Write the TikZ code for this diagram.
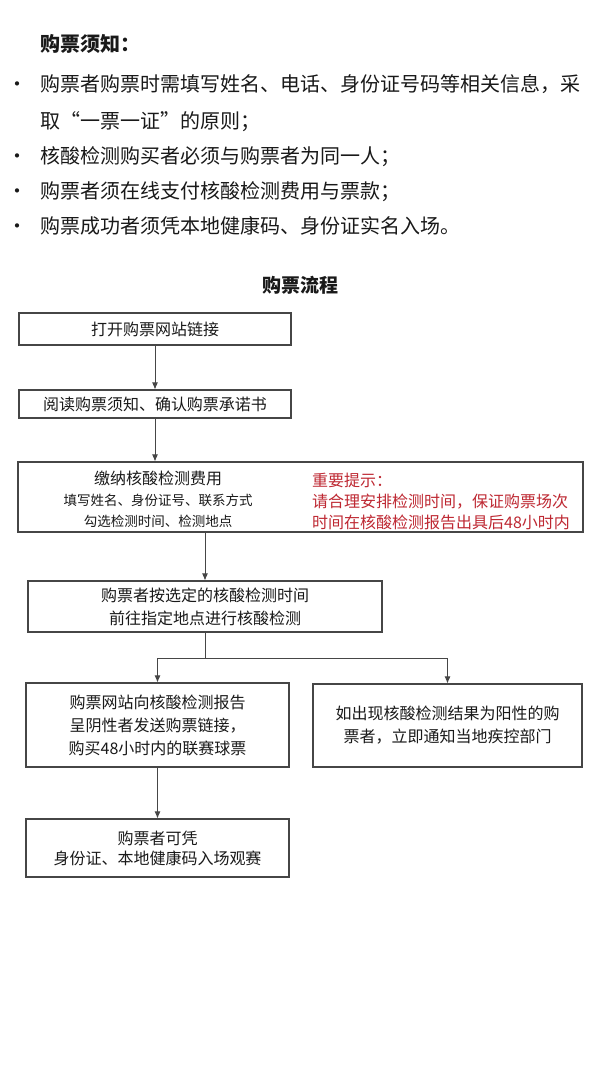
\documentclass[tikz,border=0pt]{standalone}
\usepackage{fontspec}
\setmainfont{Noto Sans CJK SC}
\usetikzlibrary{arrows.meta}
\definecolor{linegray}{RGB}{70,70,70}
\definecolor{textgray}{RGB}{25,25,25}
\definecolor{tipred}{RGB}{190,40,50}
\tikzset{
	flowbox/.style={draw=linegray, line width=1.1pt, inner sep=0pt, align=center, text=textgray},
	flowarrow/.style={draw=linegray, line width=0.9pt, -{Latex[length=7pt,width=6pt]}},
	plain/.style={inner sep=0pt, text=textgray},
}
\newcommand{\bigtext}{\fontsize{20}{36}\selectfont}
\newcommand{\boxtext}{\fontsize{16}{23}\selectfont}
\begin{document}
\begin{tikzpicture}[x=1pt, y=-1pt]
	\useasboundingbox [fill=white] ( 0, 0 ) rectangle ( 600, 1066 );
	% notice
	\node [plain, anchor=base west, font=\bigtext\bfseries] (notehead) at ( 40, 51 ) {购票须知：};
	\node [plain, anchor=base, font=\bigtext] (dot1) at ( 18, 91 ) {•};
	\node [plain, anchor=base, font=\bigtext] (dot2) at ( 18, 163 ) {•};
	\node [plain, anchor=base, font=\bigtext] (dot3) at ( 18, 198 ) {•};
	\node [plain, anchor=base, font=\bigtext] (dot4) at ( 18, 233 ) {•};
	\node [plain, anchor=base west, font=\bigtext] (note1a) at ( 40, 91 ) {购票者购票时需填写姓名、电话、身份证号码等相关信息，采};
	\node [plain, anchor=base west, font=\bigtext] (note1b) at ( 40, 128 ) {取“一票一证”的原则；};
	\node [plain, anchor=base west, font=\bigtext] (note2) at ( 40, 163 ) {核酸检测购买者必须与购票者为同一人；};
	\node [plain, anchor=base west, font=\bigtext] (note3) at ( 40, 198 ) {购票者须在线支付核酸检测费用与票款；};
	\node [plain, anchor=base west, font=\bigtext] (note4) at ( 40, 233 ) {购票成功者须凭本地健康码、身份证实名入场。};
	% flow
	\node [plain, font=\fontsize{19}{19}\selectfont\bfseries] (flowhead) at ( 300, 285 ) {购票流程};
	\node [flowbox, font=\boxtext, minimum width=272, minimum height=32] (open) at ( 155, 329 ) {打开购票网站链接};
	\node [flowbox, font=\boxtext, minimum width=272, minimum height=28] (read) at ( 155, 404 ) {阅读购票须知、确认购票承诺书};
	\node [flowbox, minimum width=565, minimum height=70] (pay) at ( 300.5, 497 ) {};
	\node [plain, align=center, font=\fontsize{13.5}{21}\selectfont] (payinfo) at ( 158, 499 ) {{\boxtext 缴纳核酸检测费用}\\填写姓名、身份证号、联系方式\\勾选检测时间、检测地点};
	\node [plain, anchor=west, align=left, text=tipred, font=\fontsize{16}{21}\selectfont] (tip) at ( 312, 501 ) {重要提示：\\请合理安排检测时间，保证购票场次\\时间在核酸检测报告出具后48小时内};
	\node [flowbox, font=\boxtext, minimum width=354, minimum height=51] (test) at ( 205, 606.5 ) {购票者按选定的核酸检测时间\\前往指定地点进行核酸检测};
	\coordinate (fork) at ( 205, 658 );
	\node [flowbox, font=\boxtext, minimum width=263, minimum height=84] (neg) at ( 157.5, 725 ) {购票网站向核酸检测报告\\呈阴性者发送购票链接，\\购买48小时内的联赛球票};
	\node [flowbox, font=\boxtext, minimum width=269, minimum height=83] (pos) at ( 447.5, 725.5 ) {如出现核酸检测结果为阳性的购\\票者，立即通知当地疾控部门};
	\node [flowbox, font=\fontsize{16}{20}\selectfont, minimum width=263, minimum height=58] (enter) at ( 157.5, 848 ) {购票者可凭\\身份证、本地健康码入场观赛};
	\draw [flowarrow] (open.south) -- (read.north);
	\draw [flowarrow] (read.south) -- (read.south |- pay.north);
	\draw [flowarrow] (pay.south -| test.north) -- (test.north);
	\draw [draw=linegray, line width=0.9pt] (test.south) -- (fork);
	\draw [flowarrow] (fork) -| (neg.north);
	\draw [flowarrow] (fork) -| (pos.north);
	\draw [flowarrow] (neg.south) -- (enter.north);
\end{tikzpicture}
\end{document}
